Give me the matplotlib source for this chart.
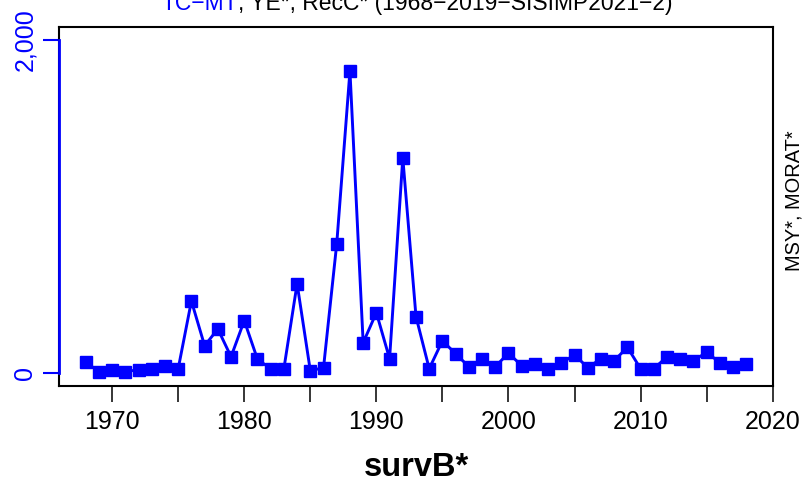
import matplotlib
matplotlib.use("Agg")
import matplotlib.pyplot as plt

plt.rcParams['font.family'] = ['Liberation Sans', 'DejaVu Sans']

# data
years = list(range(1968, 2019))
values = [66, 4, 18, 6, 18, 24, 42, 24, 431, 162,
          263, 96, 313, 81, 24, 24, 535, 12, 30, 775,
          1814, 180, 361, 84, 1292, 337, 24, 192, 114, 36,
          84, 36, 118, 42, 50, 24, 57, 108, 30, 84,
          72, 153, 24, 24, 96, 84, 72, 123, 60, 36,
          50]
x_ticks = [1970, 1975, 1980, 1985, 1990, 1995, 2000, 2005, 2010, 2015, 2020]
x_tick_labels = ['1970', '', '1980', '', '1990', '', '2000', '', '2010', '', '2020']
y_ticks = [0, 2000]
y_tick_labels = ['0', '2,000']
title_blue = 'TC\u2212MT'
title_rest = ', YE*, RecC* (1968\u22122019\u2212SISIMP2021\u22122)'
x_label = 'survB*'
right_label = 'MSY*, MORAT*'

BLUE = '#0000FF'
W, H = 804, 483

fig = plt.figure(figsize=(W / 100, H / 100), dpi=100)
ax = fig.add_axes([59.3 / W, (H - 386) / H, (772.7 - 59.3) / W, (386 - 26.7) / H])

ax.plot(years, values, color=BLUE, lw=2.1, marker='s', ms=8.8,
        mfc=BLUE, mec=BLUE, clip_on=False, zorder=4)
ax.set_xlim(1966, 2020)
ax.set_ylim(-80, 2080)

for s in ax.spines.values():
    s.set_linewidth(1.5)
    s.set_color('black')

ax.set_xticks(x_ticks)
ax.set_xticklabels(x_tick_labels)
ax.tick_params(axis='x', length=11.5, width=1.1, pad=5.5, labelsize=18, colors='black')

ax.set_yticks(y_ticks)
ax.set_yticklabels(y_tick_labels)
ax.tick_params(axis='y', length=11.5, width=1.5, pad=4.3, labelsize=18,
               color=BLUE, labelcolor=BLUE, labelrotation=90)
for lbl in ax.get_yticklabels():
    lbl.set_va('center')

# blue axis line over the left edge of the box, from 0 to 2000 only
ax.plot([1966, 1966], [0, 2000], color=BLUE, lw=2, clip_on=False, zorder=3)

# title, first part blue, rest black (cut by the top edge as in the reference)
cx = (59.3 + 772.7) / 2 / W
ty = 1 - 10 / H
fig.canvas.draw()
r = fig.canvas.get_renderer()
tmp = fig.text(0, 0, title_blue + title_rest, fontsize=16.5)
full_w = tmp.get_window_extent(r).width / W
tmp.remove()
t1 = fig.text(cx - full_w / 2, ty, title_blue, fontsize=16.5, color=BLUE, ha='left', va='baseline')
w1 = t1.get_window_extent(r).width / W
fig.text(cx - full_w / 2 + w1, ty, title_rest, fontsize=16.5, color='black', ha='left', va='baseline')

fig.text(cx, 7 / H, x_label, fontsize=23.5, fontweight='bold', ha='center', va='baseline')
fig.text(794 / W, 1 - 201 / H, right_label, rotation=90, fontsize=14.4, ha='center', va='center')

fig.savefig('out.png', dpi=100)
